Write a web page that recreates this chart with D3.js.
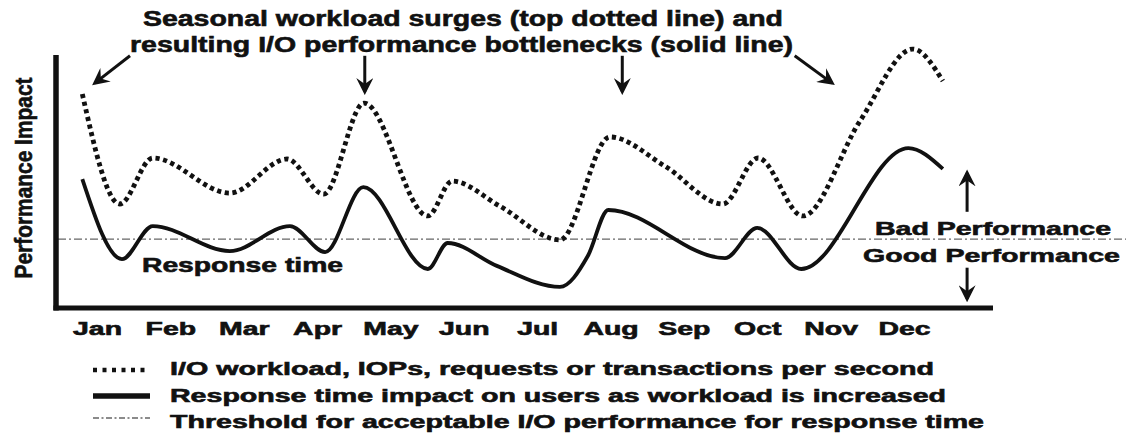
<!DOCTYPE html>
<html>
<head>
<meta charset="utf-8">
<script src="https://cdn.jsdelivr.net/npm/d3@7"></script>
<style>
  html, body { margin: 0; padding: 0; background: #fff; }
  svg { display: block; }
  text { font-family: "Liberation Sans", Arial, sans-serif; font-weight: bold; fill: #111;
         stroke: #111; stroke-width: 0.6px; }
</style>
</head>
<body>
<svg id="chart" width="1126" height="437"></svg>
<script>
// month labels along the x axis
const months = ["Jan", "Feb", "Mar", "Apr", "May", "Jun", "Jul", "Aug", "Sep", "Oct", "Nov", "Dec"];

// dotted line: I/O workload (x in months from Jan, y = performance impact 0-100)
const workloadT = [-0.20, 0.31, 0.76, 1.81, 2.59, 3.09, 3.64, 4.51, 4.84, 5.49, 6.31, 6.99, 7.74, 8.53, 9.01, 9.62, 10.40, 11.12, 11.53];
const workloadV = [82.3, 40.0, 57.7, 44.2, 57.3, 43.8, 78.8, 35.4, 48.8, 39.2, 26.2, 65.8, 54.6, 40.0, 57.7, 35.4, 71.9, 99.6, 87.3];

// solid line: response time impact
const responseT = [-0.20, 0.34, 0.76, 1.81, 2.63, 3.11, 3.63, 4.51, 4.78, 5.45, 6.31, 6.69, 6.97, 8.56, 9.00, 9.60, 11.06, 11.53];
const responseV = [49.6, 18.8, 31.5, 21.9, 31.5, 21.5, 46.5, 15.0, 25.0, 16.2, 8.1, 20.0, 37.7, 19.2, 30.8, 15.0, 61.5, 53.5];

// threshold for acceptable performance
const threshold = 26.5;

const titleLines = ["Seasonal workload surges (top dotted line) and",
                    "resulting I/O performance bottlenecks (solid line)"];
const legendLabels = ["I/O workload, IOPs, requests or transactions per second",
                      "Response time impact on users as workload is increased",
                      "Threshold for acceptable I/O performance for response time"];

const svg = d3.select("#chart");

const x = d3.scaleLinear().domain([0, 11]).range([97, 904]);
const xm = d3.scalePoint().domain(months).range([97, 904]);
const y = d3.scaleLinear().domain([0, 100]).range([308, 48]);

// marker for the annotation arrows
svg.append("defs").append("marker")
    .attr("id", "head")
    .attr("viewBox", "0 0 10 10")
    .attr("refX", 8).attr("refY", 5)
    .attr("markerWidth", 17).attr("markerHeight", 17)
    .attr("markerUnits", "userSpaceOnUse")
    .attr("orient", "auto")
  .append("path")
    .attr("d", "M0,0 L10,5 L0,10 L3.5,5 z")
    .attr("fill", "#111");

// threshold line (dash-dot)
svg.append("line")
    .attr("x1", 58).attr("x2", 1126)
    .attr("y1", y(threshold)).attr("y2", y(threshold))
    .attr("stroke", "#666").attr("stroke-width", 1.4)
    .attr("stroke-dasharray", "8,3,2,3");

const line = d3.line()
    .x(d => x(d[0]))
    .y(d => y(d[1]))
    .curve(d3.curveMonotoneX);

svg.append("path")
    .datum(d3.zip(workloadT, workloadV))
    .attr("d", line)
    .attr("fill", "none")
    .attr("stroke", "#111")
    .attr("stroke-width", 4.8)
    .attr("stroke-dasharray", "4.2,3.6");

svg.append("path")
    .datum(d3.zip(responseT, responseV))
    .attr("d", line)
    .attr("fill", "none")
    .attr("stroke", "#111")
    .attr("stroke-width", 3.8);

// axes
svg.append("line")
    .attr("x1", 56).attr("x2", 56)
    .attr("y1", 55).attr("y2", 310.5)
    .attr("stroke", "#111").attr("stroke-width", 5.5);
svg.append("line")
    .attr("x1", 53.5).attr("x2", 993)
    .attr("y1", 308).attr("y2", 308)
    .attr("stroke", "#111").attr("stroke-width", 5);

const xAxis = svg.append("g")
    .attr("transform", "translate(0,308)")
    .call(d3.axisBottom(xm).tickSize(0).tickPadding(14));
xAxis.select(".domain").remove();
xAxis.selectAll("text")
    .attr("font-family", null)
    .style("font-size", "18px")
    .style("fill", "#111")
    .attr("transform", "scale(1.58,1)");

// y label
svg.append("text")
    .attr("transform", "translate(32,178) rotate(-90)")
    .attr("text-anchor", "middle")
    .attr("textLength", 201)
    .attr("lengthAdjust", "spacingAndGlyphs")
    .style("font-size", "23px")
    .text("Performance Impact");

// title
const titlePos = [[143, 26, 640], [130, 52, 663]];
titleLines.forEach((t, i) => {
  svg.append("text")
      .attr("x", titlePos[i][0]).attr("y", titlePos[i][1])
      .attr("textLength", titlePos[i][2])
      .attr("lengthAdjust", "spacingAndGlyphs")
      .style("font-size", "22px")
      .text(t);
});

// annotation arrows, in chart units [t0, v0, t1, v1]
const arrows = [[0.45, 97, -0.03, 86.5], [3.65, 97, 3.65, 83.2], [7.16, 97, 7.16, 83.2],
                [9.51, 97, 10.02, 86.5], [11.86, 37, 11.86, 52], [11.86, 15.5, 11.86, 3.5]];
svg.selectAll("line.arrow")
  .data(arrows)
  .join("line")
    .attr("class", "arrow")
    .attr("x1", d => x(d[0])).attr("y1", d => y(d[1]))
    .attr("x2", d => x(d[2])).attr("y2", d => y(d[3]))
    .attr("stroke", "#111").attr("stroke-width", 3)
    .attr("marker-end", "url(#head)");

// in-chart labels
const notes = [["Response time", 142, 272, 201, 20],
               ["Bad Performance", 875, 235, 236, 19],
               ["Good Performance", 863, 262, 257, 19]];
notes.forEach(n => {
  svg.append("text")
      .attr("x", n[1]).attr("y", n[2])
      .attr("textLength", n[3])
      .attr("lengthAdjust", "spacingAndGlyphs")
      .style("font-size", n[4] + "px")
      .text(n[0]);
});

// legend
const legendY = [370, 396, 418];
const legendLen = [764, 776, 814];
const legendStyle = [
  { w: 4.5, dash: "4,5.5", color: "#111" },
  { w: 5.5, dash: null, color: "#111" },
  { w: 1.3, dash: "6,2.5,2,2.5", color: "#666" }
];
legendLabels.forEach((lab, i) => {
  svg.append("line")
      .attr("x1", 93).attr("x2", 150)
      .attr("y1", legendY[i]).attr("y2", legendY[i])
      .attr("stroke", legendStyle[i].color)
      .attr("stroke-width", legendStyle[i].w)
      .attr("stroke-dasharray", legendStyle[i].dash);
  svg.append("text")
      .attr("x", 170).attr("y", legendY[i] + (i === 0 ? 5 : i === 1 ? 6 : 10))
      .attr("textLength", legendLen[i])
      .attr("lengthAdjust", "spacingAndGlyphs")
      .style("font-size", "18px")
      .text(lab);
});
</script>
</body>
</html>
